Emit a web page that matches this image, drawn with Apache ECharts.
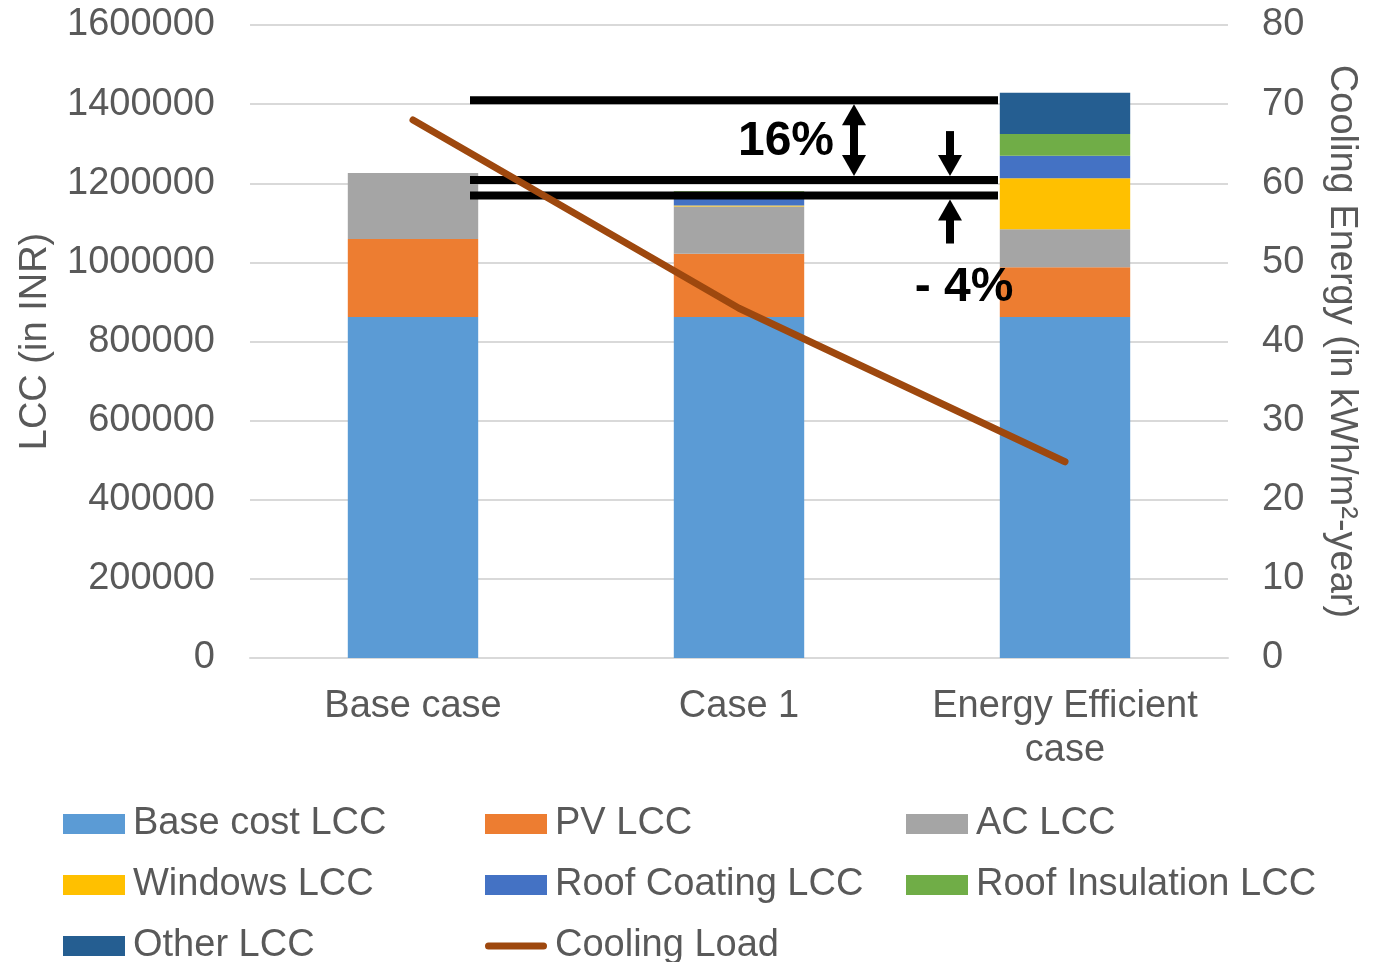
<!DOCTYPE html>
<html>
<head>
<meta charset="utf-8">
<script src="https://cdn.jsdelivr.net/npm/echarts@6/dist/echarts.min.js"></script>
<style>
  html, body { margin: 0; padding: 0; background: #ffffff; }
  #chart { width: 1381px; height: 962px; }
</style>
</head>
<body>
<div id="chart"></div>
<script>
// Categories and stacked life-cycle cost components (INR)
const categories = ['Base case', 'Case 1', 'Energy Efficient\ncase'];
const baseCostLcc = [862000, 862000, 862000];
const pvLcc = [197000, 160000, 125500];
const acLcc = [167000, 119000, 96000];
const windowsLcc = [0, 3000, 129000];
const roofCoatingLcc = [0, 32000, 57000];
const roofInsulationLcc = [0, 4000, 55000];
const otherLcc = [0, 0, 104000];

// Cooling energy per case (kWh/m²-year), right axis
const coolingLoad = [68.0, 44.2, 24.8];

// Axis ranges
const lccAxis = { min: 0, max: 1600000, interval: 200000 };
const energyAxis = { min: 0, max: 80, interval: 10 };

// Reference levels for the change annotations (INR)
const levelLines = [1410000, 1208000, 1169000];
const changeLabels = ['16%', '- 4%'];

const FONT = 'Liberation Sans, Arial, sans-serif';
const TEXT = '#595959';
const GRID = '#d9d9d9';
const LINE_COLOR = '#9E480E';

const chart = echarts.init(document.getElementById('chart'), null, { renderer: 'canvas' });

function barSeries(name, data, color) {
  return {
    name: name,
    type: 'bar',
    stack: 'lcc',
    barWidth: '40%',
    data: data,
    itemStyle: { color: color },
    emphasis: { disabled: true }
  };
}

// Thick rounded stroke used as the line-series legend key
const lineKey = 'path://M3.5,0 L58.5,0 A3.5,3.5 0 0 1 58.5,7 L3.5,7 A3.5,3.5 0 0 1 3.5,0 Z';

const legendText = { fontFamily: FONT, fontSize: 38, color: TEXT, lineHeight: 40, padding: [0, 0, 0, 3] };
function legendCol(left, names) {
  return {
    orient: 'vertical',
    left: left,
    top: 799,
    height: 200,
    itemWidth: 62,
    itemHeight: 20,
    itemGap: 21,
    selectedMode: false,
    symbolKeepAspect: true,
    textStyle: legendText,
    data: names.map(n => n === 'Cooling Load'
      ? { name: n, icon: lineKey, itemStyle: { color: LINE_COLOR } }
      : { name: n, icon: 'rect' })
  };
}

chart.setOption({
  animation: false,
  backgroundColor: '#ffffff',
  grid: { left: 250, right: 153, top: 25, bottom: 304, containLabel: false, outerBoundsMode: 'none' },
  legend: [
    legendCol(58, ['Base cost LCC', 'Windows LCC', 'Other LCC']),
    legendCol(480, ['PV LCC', 'Roof Coating LCC', 'Cooling Load']),
    legendCol(901, ['AC LCC', 'Roof Insulation LCC'])
  ],
  xAxis: {
    type: 'category',
    data: categories,
    axisTick: { show: false },
    axisLine: { lineStyle: { color: GRID, width: 2 } },
    axisLabel: {
      fontFamily: FONT, fontSize: 38, color: TEXT, lineHeight: 44, margin: 27, interval: 0
    }
  },
  yAxis: [
    {
      type: 'value',
      min: lccAxis.min, max: lccAxis.max, interval: lccAxis.interval,
      name: 'LCC (in INR)',
      nameLocation: 'middle',
      nameRotate: 90,
      nameGap: 195,
      nameTextStyle: { fontFamily: FONT, fontSize: 38, color: TEXT },
      axisLine: { show: false },
      axisTick: { show: false },
      axisLabel: { fontFamily: FONT, fontSize: 38, color: TEXT, margin: 35, formatter: v => String(v) },
      splitLine: { lineStyle: { color: GRID, width: 2 } }
    },
    {
      type: 'value',
      position: 'right',
      min: energyAxis.min, max: energyAxis.max, interval: energyAxis.interval,
      name: 'Cooling Energy (in kWh/m²-year)',
      nameLocation: 'middle',
      nameRotate: -90,
      nameGap: 94,
      nameTextStyle: { fontFamily: FONT, fontSize: 38, color: TEXT },
      axisLine: { show: false },
      axisTick: { show: false },
      axisLabel: { fontFamily: FONT, fontSize: 38, color: TEXT, margin: 34, formatter: v => String(v) },
      splitLine: { show: false }
    }
  ],
  series: [
    barSeries('Base cost LCC', baseCostLcc, '#5B9BD5'),
    barSeries('PV LCC', pvLcc, '#ED7D31'),
    barSeries('AC LCC', acLcc, '#A5A5A5'),
    barSeries('Windows LCC', windowsLcc, '#FFC000'),
    barSeries('Roof Coating LCC', roofCoatingLcc, '#4472C4'),
    barSeries('Roof Insulation LCC', roofInsulationLcc, '#70AD47'),
    barSeries('Other LCC', otherLcc, '#255E91'),
    {
      name: 'Cooling Load',
      type: 'line',
      yAxisIndex: 1,
      data: coolingLoad,
      symbol: 'none',
      z: 6,
      lineStyle: { color: LINE_COLOR, width: 7, cap: 'round', join: 'round' },
      itemStyle: { color: LINE_COLOR },
      emphasis: { disabled: true }
    }
  ]
});

// Change annotations: level lines, arrows and percentage labels
const yPx = v => chart.convertToPixel({ yAxisIndex: 0 }, v);
const lineLeft = 470, lineRight = 998, lineW = 8;
const headW = 24, headH = 21, shaftW = 8;
const ink = { fill: '#000000' };

function head(x, tipY, dir) {
  // dir = +1 points up (body below tip), -1 points down
  return {
    type: 'polygon', z: 5,
    shape: { points: [[x, tipY], [x - headW / 2, tipY + dir * headH], [x + headW / 2, tipY + dir * headH]] },
    style: ink
  };
}
function shaft(x, y1, y2) {
  return {
    type: 'rect', z: 5,
    shape: { x: x - shaftW / 2, y: Math.min(y1, y2), width: shaftW, height: Math.abs(y2 - y1) },
    style: ink
  };
}

const ys = levelLines.map(yPx);
const elements = [];
ys.forEach(y => {
  elements.push({
    type: 'rect', z: 4,
    shape: { x: lineLeft, y: y - lineW / 2, width: lineRight - lineLeft, height: lineW },
    style: ink
  });
});

// Double arrow between the first two levels
const dx = 854;
const dTop = ys[0] + lineW / 2, dBot = ys[1] - lineW / 2;
elements.push(head(dx, dTop, 1), head(dx, dBot, -1), shaft(dx, dTop + headH - 1, dBot - headH + 1));

// Converging arrows onto the lower pair of levels
const cx = 950;
const downTip = ys[1] - lineW / 2, upTip = ys[2] + lineW / 2;
elements.push(head(cx, downTip, -1), shaft(cx, downTip - headH + 1, downTip - 45));
elements.push(head(cx, upTip, 1), shaft(cx, upTip + headH - 1, upTip + 44));

const pctFont = 'bold 48px ' + FONT;
elements.push({
  type: 'text', z: 5, x: 786, y: (ys[0] + ys[1]) / 2 + 2,
  style: { text: changeLabels[0], font: pctFont, fill: '#000000', align: 'center', verticalAlign: 'middle' }
});
elements.push({
  type: 'text', z: 5, x: 964, y: upTip + 88,
  style: { text: changeLabels[1], font: pctFont, fill: '#000000', align: 'center', verticalAlign: 'middle' }
});

chart.setOption({ graphic: { elements: elements } });
</script>
</body>
</html>
